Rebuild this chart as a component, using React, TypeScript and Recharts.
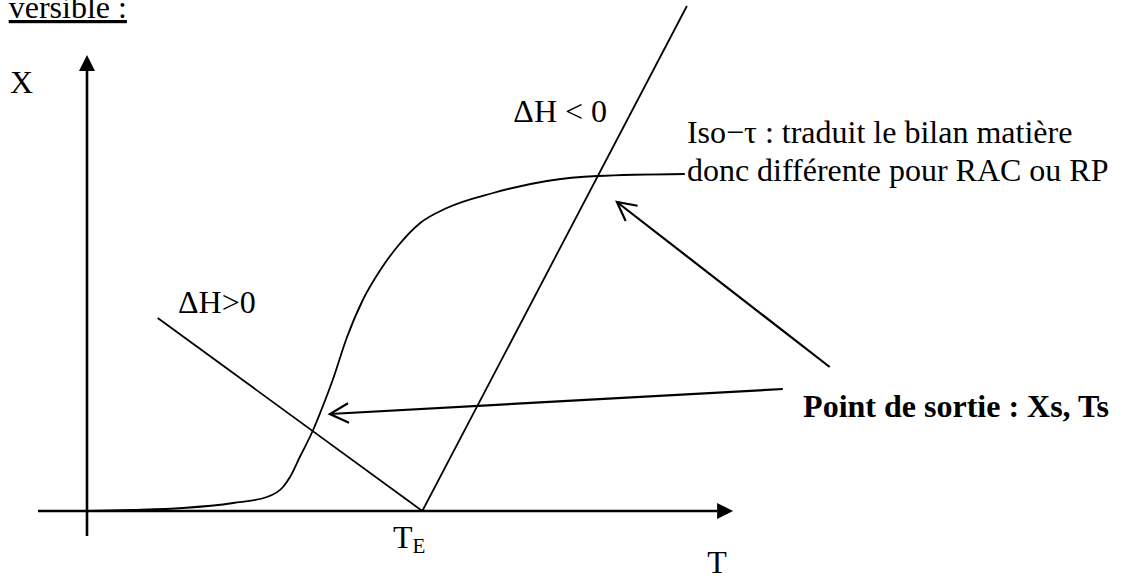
import { LineChart, Line, XAxis, YAxis, ReferenceLine, ReferenceDot } from 'recharts';

// Iso-tau curve (T, X), arbitrary units, origin at the axes crossing
const isoT = [0, 6.6, 13.7, 20.9, 25.7, 28.0, 29.0, 30.4, 32.3, 33.3, 35.1, 37.1, 39.4, 41.9, 44.3, 47.6, 51.4, 58.0, 65.7, 72.9, 85.4];
const isoX = [0, 0.2, 0.6, 1.6, 2.8, 4.8, 6.8, 10.8, 16.2, 19.6, 26.2, 34.6, 42.2, 48.2, 52.8, 57.6, 60.6, 63.6, 66.0, 67.0, 67.4];

// equilibrium lines, both leaving the T axis at T_E
const TE = 47.9;
const endoT = [10.1, TE];
const endoX = [38.6, 0];
const exoT = [TE, 85.7];
const exoX = [0, 101];

// axes (tail -> tip)
const tAxis = [[-7, 0], [92.3, 0]];
const xAxis = [[0, -5], [0, 91.2]];

// "Point de sortie" pointers (tail -> tip)
const pointers = [
  [[99.4, 24.4], [34.7, 19.4]],
  [[106.1, 28.8], [75.7, 61.8]],
];

// texts
const labels = [
  { t: 5.7, x: 98.6, text: 'versible :', anchor: 'end', underline: true },
  { t: -11, x: 83.6, text: 'X' },
  { t: 13.0, x: 39.6, text: 'ΔH>0' },
  { t: 60.9, x: 77.8, text: 'ΔH < 0' },
  { t: 85.7, x: 73.6, text: 'Iso−τ : traduit le bilan matière' },
  { t: 85.7, x: 66.0, text: 'donc différente pour RAC ou RP' },
  { t: 102.3, x: 18.8, text: 'Point de sortie : Xs, Ts', bold: true },
  { t: 88.6, x: -12.4, text: 'T' },
];

const toPts = (ts: number[], xs: number[]) => ts.map((t, i) => ({ t, x: xs[i] }));

const FONT = '"Liberation Serif", "Times New Roman", serif';

const solidArrow = (p: any) => {
  const { x1, y1, x2, y2 } = p;
  const a = Math.atan2(y2 - y1, x2 - x1);
  const len = 16;
  const half = 8;
  const bx = x2 - len * Math.cos(a);
  const by = y2 - len * Math.sin(a);
  const nx = -Math.sin(a) * half;
  const ny = Math.cos(a) * half;
  return (
    <g>
      <line x1={x1} y1={y1} x2={bx} y2={by} stroke="#000" strokeWidth={2.6} />
      <polygon points={`${x2},${y2} ${bx + nx},${by + ny} ${bx - nx},${by - ny}`} fill="#000" />
    </g>
  );
};

const openArrow = (p: any) => {
  const { x1, y1, x2, y2 } = p;
  const a = Math.atan2(y2 - y1, x2 - x1);
  const arm = 21;
  const spread = 0.48;
  const ax = (s: number) => x2 - arm * Math.cos(a + s * spread);
  const ay = (s: number) => y2 - arm * Math.sin(a + s * spread);
  return (
    <g stroke="#000" strokeWidth={2.2} fill="none">
      <line x1={x1} y1={y1} x2={x2} y2={y2} />
      <polyline points={`${ax(1)},${ay(1)} ${x2},${y2} ${ax(-1)},${ay(-1)}`} />
    </g>
  );
};

const App = () => {
  return (
    <div style={{ position: 'fixed', left: 0, top: 0, background: '#fff' }}>
      <LineChart width={1124} height={580} margin={{ top: 1, right: 232, bottom: 4, left: 3 }}>
        <XAxis type="number" dataKey="t" domain={[-12, 115]} allowDataOverflow hide />
        <YAxis type="number" dataKey="x" domain={[-13, 102]} allowDataOverflow hide />

        <ReferenceLine segment={[{ x: tAxis[0][0], y: tAxis[0][1] }, { x: tAxis[1][0], y: tAxis[1][1] }]} shape={solidArrow} ifOverflow="visible" />
        <ReferenceLine segment={[{ x: xAxis[0][0], y: xAxis[0][1] }, { x: xAxis[1][0], y: xAxis[1][1] }]} shape={solidArrow} ifOverflow="visible" />

        <Line data={toPts(isoT, isoX)} dataKey="x" type="monotone" stroke="#000" strokeWidth={1.8} dot={false} isAnimationActive={false} />
        <Line data={toPts(endoT, endoX)} dataKey="x" type="linear" stroke="#000" strokeWidth={1.8} dot={false} isAnimationActive={false} />
        <Line data={toPts(exoT, exoX)} dataKey="x" type="linear" stroke="#000" strokeWidth={1.8} dot={false} isAnimationActive={false} />

        {pointers.map((seg, i) => (
          <ReferenceLine key={i} segment={[{ x: seg[0][0], y: seg[0][1] }, { x: seg[1][0], y: seg[1][1] }]} shape={openArrow} ifOverflow="visible" />
        ))}

        {labels.map((l, i) => (
          <ReferenceDot
            key={'l' + i}
            x={l.t}
            y={l.x}
            ifOverflow="visible"
            shape={(p: any) => (
              <text
                x={p.cx}
                y={p.cy}
                fontFamily={FONT}
                fontSize={32}
                fontWeight={l.bold ? 'bold' : 'normal'}
                textAnchor={l.anchor || 'start'}
                textDecoration={l.underline ? 'underline' : undefined}
                fill="#000"
              >
                {l.text}
              </text>
            )}
          />
        ))}

        <ReferenceDot
          x={TE - 4.2}
          y={-7.4}
          ifOverflow="visible"
          shape={(p: any) => (
            <text x={p.cx} y={p.cy} fontFamily={FONT} fontSize={32} fill="#000">
              T<tspan fontSize={21} dy={5}>E</tspan>
            </text>
          )}
        />
      </LineChart>
    </div>
  );
};

export default App;
